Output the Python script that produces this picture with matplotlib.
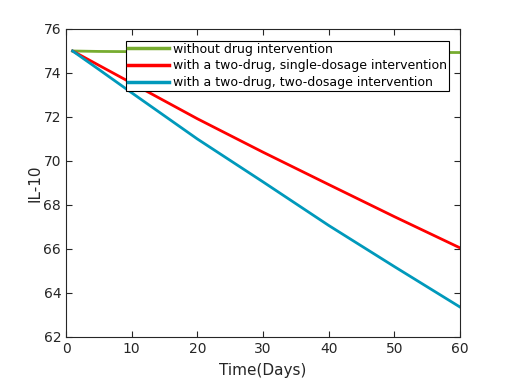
import numpy as np
import matplotlib.pyplot as plt

days = [1, 5, 10, 20, 30, 40, 50, 60]
il10_none = [75.0, 74.98, 74.97, 74.96, 74.95, 74.94, 74.94, 74.93]
il10_single = [75.0, 74.35, 73.54, 71.92, 70.40, 68.93, 67.47, 66.05]
il10_double = [75.0, 74.16, 73.10, 71.00, 69.05, 67.07, 65.20, 63.36]

labels = ['without drug intervention',
          'with a two-drug, single-dosage intervention',
          'with a two-drug, two-dosage intervention']

fig = plt.figure(figsize=(5.08, 3.81), dpi=100)
ax = fig.add_axes([0.13, 0.1155, 0.7756, 0.8084])

ax.plot(days, il10_none, color='#77ac30', lw=2, label=labels[0])
ax.plot(days, il10_single, color='#ff0000', lw=2, label=labels[1])
ax.plot(days, il10_double, color='#0099bb', lw=2, label=labels[2])

ax.set_xlim(0, 60)
ax.set_ylim(62, 76)
ax.set_xticks(np.arange(0, 61, 10))
ax.set_yticks(np.arange(62, 77, 2))
ax.tick_params(direction='in', top=True, right=True, labelsize=10, colors='#262626', length=4)
for s in ax.spines.values():
    s.set_color('#262626')

ax.set_xlabel('Time(Days)', fontsize=11, color='#262626', labelpad=5)
ax.set_ylabel('IL-10', fontsize=11, color='#262626', labelpad=1)

leg = ax.legend(loc='upper left', bbox_to_anchor=(0.152, 0.962), fontsize=9,
                handlelength=3.3, borderpad=0.15, labelspacing=0.3,
                handletextpad=0.3, borderaxespad=0, fancybox=False, framealpha=1)
leg.get_frame().set_edgecolor('black')
leg.get_frame().set_linewidth(0.8)
for line in leg.get_lines():
    line.set_linewidth(2.5)

plt.savefig('out.png', dpi=100)
